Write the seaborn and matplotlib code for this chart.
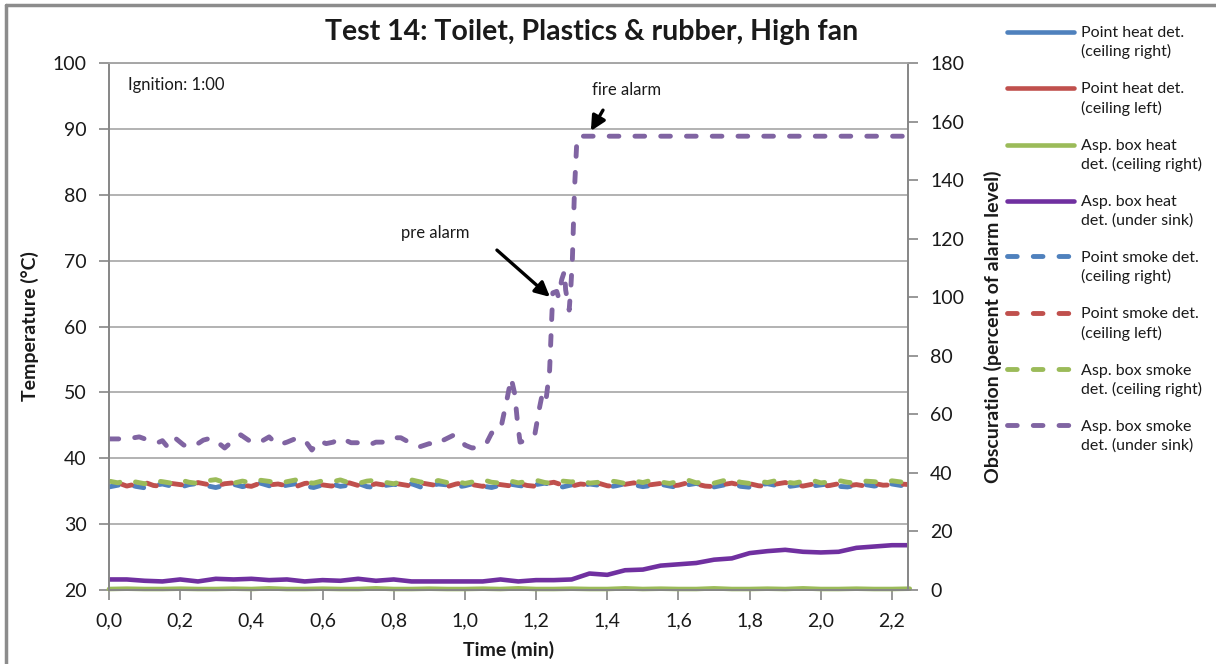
import numpy as np
import matplotlib
matplotlib.use("Agg")
import matplotlib.pyplot as plt
import seaborn as sns
from matplotlib.legend_handler import HandlerLine2D
from matplotlib.lines import Line2D

# ---------------- data ----------------
# heat detectors (temperature, left axis)
heat_step = 0.05
coarse_step = 0.15
point_heat_right = [20.0, 20.0, 20.0, 20.0, 20.0, 20.0, 20.0, 20.0, 20.0, 20.0, 20.0, 20.0, 20.0, 20.0, 20.0, 20.0]
point_heat_left = [19.95, 19.95, 19.95, 19.95, 19.95, 19.9, 19.95, 19.95, 19.9, 19.95, 19.95, 19.9, 19.95, 19.95, 19.95, 19.95]
asp_heat_right = [20.15, 20.2, 20.15, 20.15, 20.2, 20.15, 20.15, 20.2, 20.15, 20.25,
                  20.15, 20.15, 20.2, 20.15, 20.15, 20.25, 20.15, 20.15, 20.2, 20.15,
                  20.15, 20.2, 20.15, 20.25, 20.15, 20.15, 20.2, 20.15, 20.15, 20.25,
                  20.15, 20.2, 20.15, 20.15, 20.25, 20.15, 20.15, 20.2, 20.15, 20.25,
                  20.15, 20.15, 20.2, 20.15, 20.15, 20.2]
asp_heat_sink = [21.6, 21.6, 21.4, 21.3, 21.6, 21.3, 21.7, 21.6, 21.7, 21.5,
                 21.6, 21.3, 21.5, 21.4, 21.7, 21.4, 21.6, 21.3, 21.3, 21.3,
                 21.3, 21.3, 21.6, 21.3, 21.5, 21.5, 21.6, 22.5, 22.3, 23.0,
                 23.1, 23.7, 23.9, 24.1, 24.6, 24.8, 25.6, 25.9, 26.1, 25.8,
                 25.7, 25.8, 26.4, 26.6, 26.8, 26.8]

# smoke detectors (obscuration, right axis)
smoke_step = 0.025
asp_smoke_right = [37.2, 36.6, 37.5, 36.9, 36.3, 37.4, 37.0, 36.5, 37.6, 36.8,
                   36.4, 37.3, 37.7, 36.7, 36.5, 37.2, 36.6, 37.5, 37.1, 36.4,
                   37.0, 37.6, 36.8, 36.5, 37.3, 36.9, 37.6, 36.6, 36.4, 37.2,
                   37.5, 36.8, 36.3, 37.1, 37.6, 36.9, 36.5, 37.4, 36.7, 37.2,
                   36.4, 37.0, 37.7, 36.8, 36.5, 37.3, 36.6, 37.1, 37.5, 36.7,
                   36.4, 37.2, 36.9, 37.6, 36.5, 36.8, 37.4, 37.0, 36.4, 37.3,
                   36.7, 37.5, 36.9, 36.4, 37.1, 37.6, 36.6, 37.0, 36.5, 37.3,
                   37.7, 36.8, 36.4, 37.2, 36.7, 37.4, 36.9, 36.5, 37.1, 37.5,
                   36.6, 36.9, 37.4, 36.8, 36.5, 37.2, 37.0, 36.6, 37.3, 36.9, 37.0]
point_smoke_left = [36.0, 36.6, 35.5, 36.2, 36.8, 35.7, 35.4, 36.4, 36.0, 35.6,
                    36.7, 36.1, 35.5, 36.3, 36.6, 35.8, 35.4, 36.5, 35.9, 36.2,
                    35.6, 35.3, 36.4, 36.7, 35.9, 35.5, 36.1, 36.6, 35.7, 35.4,
                    36.3, 35.8, 36.5, 36.0, 35.5, 36.6, 36.1, 35.6, 35.3, 36.2,
                    36.7, 35.9, 35.4, 36.4, 36.0, 35.6, 36.5, 35.7, 35.4, 36.3,
                    36.8, 35.8, 35.5, 36.2, 35.9, 36.5, 35.6, 35.3, 36.1, 36.6,
                    35.7, 36.0, 36.4, 35.5, 35.8, 36.6, 36.2, 35.5, 35.3, 36.0,
                    36.5, 35.8, 36.3, 35.6, 35.4, 36.2, 36.7, 35.9, 35.5, 36.1,
                    35.4, 35.7, 36.3, 35.6, 36.0, 35.5, 36.4, 35.8, 35.9, 36.2, 36.0]
point_smoke_right = [35.2, 35.8, 36.3, 35.4, 34.9, 35.7, 36.2, 35.5, 35.1, 36.0,
                     36.4, 35.6, 35.0, 35.8, 36.1, 35.3, 35.9, 36.5, 35.6, 35.2,
                     35.8, 36.3, 35.5, 35.0, 35.9, 36.2, 35.4, 35.8, 36.4, 35.3,
                     35.0, 35.7, 36.1, 35.6, 36.3, 35.2, 35.5, 36.2, 35.9, 35.1,
                     35.6, 36.4, 35.5, 35.0, 35.8, 36.2, 35.7, 35.3, 36.0, 36.5,
                     35.6, 35.2, 35.9, 35.4, 36.2, 35.8, 35.1, 35.6, 36.3, 35.9,
                     35.3, 35.7, 36.1, 35.5, 35.0, 35.9, 36.4, 35.6, 35.2, 35.8,
                     36.2, 35.4, 35.1, 35.9, 36.3, 35.7, 35.2, 35.6, 36.1, 35.5,
                     35.9, 36.3, 35.4, 35.2, 35.8, 36.0, 35.5, 35.9, 36.2, 35.7, 35.9]
asp_smoke_sink_t = [0.00, 0.03, 0.06, 0.085, 0.11, 0.135, 0.15, 0.165, 0.185, 0.21, 0.235, 0.265, 0.29, 0.31,
                    0.325, 0.35, 0.37, 0.40, 0.42, 0.45, 0.465, 0.475, 0.50, 0.53, 0.55, 0.57, 0.59, 0.61,
                    0.63, 0.65, 0.68, 0.70, 0.73, 0.75, 0.77, 0.79, 0.82, 0.85, 0.87, 0.90, 0.92, 0.94,
                    0.97, 0.99, 1.00, 1.02, 1.04, 1.06, 1.075, 1.10, 1.118, 1.13, 1.14, 1.148, 1.155,
                    1.17, 1.197, 1.21, 1.218, 1.228, 1.238, 1.243, 1.247, 1.258, 1.263, 1.272, 1.28,
                    1.283, 1.293, 1.298, 1.302, 1.308, 1.315, 1.33, 2.245]
asp_smoke_sink = [51.6, 51.6, 51.8, 52.3, 51.2, 50.2, 51.0, 48.8, 52.0, 49.5, 48.8, 51.2, 52.0, 50.0,
                  48.5, 51.2, 53.0, 50.5, 50.2, 52.3, 50.5, 49.5, 50.5, 52.0, 51.2, 47.8, 51.0, 50.0,
                  50.5, 52.0, 50.3, 50.3, 49.5, 50.5, 50.5, 52.0, 52.0, 50.0, 48.8, 50.0, 49.5, 51.2,
                  53.0, 51.2, 49.5, 48.5, 48.8, 50.0, 53.6, 54.7, 65.0, 72.4, 67.0, 57.0, 50.5,
                  51.0, 53.5, 62.5, 67.3, 65.0, 75.0, 90.0, 101.5, 102.0, 100.0, 106.0, 109.0,
                  102.5, 95.6, 104.0, 113.0, 137.0, 154.7, 155.0, 155.0]

labels = ["Point heat det.\n(ceiling right)", "Point heat det.\n(ceiling left)",
          "Asp. box heat\ndet. (ceiling right)", "Asp. box heat\ndet. (under sink)",
          "Point smoke det.\n(ceiling right)", "Point smoke det.\n(ceiling left)",
          "Asp. box smoke\ndet. (ceiling right)", "Asp. box smoke\ndet. (under sink)"]
xticks = [0.0, 0.2, 0.4, 0.6, 0.8, 1.0, 1.2, 1.4, 1.6, 1.8, 2.0, 2.2]
xtick_labels = ["0,0", "0,2", "0,4", "0,6", "0,8", "1,0", "1,2", "1,4", "1,6", "1,8", "2,0", "2,2"]
left_ticks = [20, 30, 40, 50, 60, 70, 80, 90, 100]
right_ticks = [0, 20, 40, 60, 80, 100, 120, 140, 160, 180]

# ---------------- style ----------------
sns.set_theme(style="white")
plt.rcParams["font.family"] = ["Lato", "DejaVu Sans"]
BLUE, RED, GREEN = "#4F81BD", "#C0504D", "#9BBB59"
PURPLE_SOLID, PURPLE_DASH = "#7030A0", "#8064A2"
GRID = "#A6A6A6"
AXC = "#868686"
TXT = "#1a1a1a"
DASH = (2.0, 3.3)

fig = plt.figure(figsize=(12.16, 6.64), dpi=100)
ax = fig.add_axes([109 / 1216, 1 - 590 / 664, 799 / 1216, 527 / 664])
ax2 = ax.twinx()


def tgrid(vals, step):
    return np.arange(len(vals)) * step


def draw(axis, x, y, color, lw, dashed=False, offset=0.0, clip=True):
    sns.lineplot(x=np.asarray(x), y=np.asarray(y), ax=axis, color=color, linewidth=lw,
                 estimator=None, sort=False, legend=False)
    ln = axis.get_lines()[-1]
    ln.set_solid_capstyle("round")
    ln.set_solid_joinstyle("round")
    if dashed:
        ln.set_linestyle((offset, DASH))
        ln.set_dash_capstyle("round")
        ln.set_dash_joinstyle("round")
    ln.set_clip_on(clip)
    return ln


h1 = draw(ax, tgrid(point_heat_right, coarse_step), point_heat_right, BLUE, 3.3)
h2 = draw(ax, tgrid(point_heat_left, coarse_step), point_heat_left, RED, 3.3)
h3 = draw(ax, tgrid(asp_heat_right, heat_step), asp_heat_right, GREEN, 3.3, clip=False)
h4 = draw(ax, tgrid(asp_heat_sink, heat_step), asp_heat_sink, PURPLE_SOLID, 3.3)
h5 = draw(ax2, tgrid(point_smoke_right, smoke_step), point_smoke_right, BLUE, 3.5, True, 0.0)
h6 = draw(ax2, tgrid(point_smoke_left, smoke_step), point_smoke_left, RED, 3.5, True, 2.5)
h7 = draw(ax2, tgrid(asp_smoke_right, smoke_step), asp_smoke_right, GREEN, 3.5, True, 5.0)
h8 = draw(ax2, asp_smoke_sink_t, asp_smoke_sink, PURPLE_DASH, 3.5, True, 0.0)

ax.set_xlim(0, 2.245)
ax.set_ylim(20, 100)
ax2.set_ylim(0, 180)
ax.set_xticks(xticks)
ax.set_xticklabels(xtick_labels)
ax.set_yticks(left_ticks)
ax2.set_yticks(right_ticks)

ax.yaxis.grid(True, color=GRID, lw=1.2)
ax.xaxis.grid(False)
ax2.grid(False)
ax.set_axisbelow(True)

for a in (ax, ax2):
    for s in a.spines.values():
        s.set_color(AXC)
        s.set_linewidth(1.2)
    a.spines["top"].set_color(GRID)

ax.tick_params(axis="y", which="major", direction="out", length=7, width=1.2, color=AXC,
               labelsize=14, labelcolor=TXT, pad=9, left=True)
ax.tick_params(axis="x", which="major", direction="out", length=7, width=1.2, color=AXC,
               labelsize=14, labelcolor=TXT, pad=9, bottom=True)
ax2.tick_params(axis="y", which="major", direction="out", length=7, width=1.2, color=AXC,
                labelsize=14, labelcolor=TXT, pad=9, right=True)

ax.set_xlabel("Time (min)", fontsize=14, fontweight="bold", color=TXT, va="center")
ax.set_ylabel("Temperature (°C)", fontsize=14, fontweight="bold", color=TXT, va="center")
ax2.set_ylabel("Obscuration (percent of alarm level)", fontsize=14, fontweight="bold",
               color=TXT, va="center")
ax.xaxis.set_label_coords(0.5, -0.114)
ax.yaxis.set_label_coords(-0.099, 0.5)
ax2.yaxis.set_label_coords(1.1065, 0.5)

fig.text(592 / 1216, 1 - 32 / 664, "Test 14: Toilet, Plastics & rubber, High fan",
         ha="center", va="center", fontsize=20.5, fontweight="bold", color=TXT)

ax.text(0.024, 0.958, "Ignition: 1:00", transform=ax.transAxes, ha="left", va="center",
        fontsize=12, color=TXT)
ax2.text(0.916, 121.9, "pre alarm", ha="center", va="center", fontsize=12, color=TXT)
ax2.text(1.455, 170.8, "fire alarm", ha="center", va="center", fontsize=12, color=TXT)
arrow = dict(arrowstyle="-|>", color="black", lw=2.4, mutation_scale=22, shrinkA=0, shrinkB=0)
ax2.annotate("", xy=(1.239, 100.1), xytext=(1.090, 116.1), arrowprops=arrow, annotation_clip=False)
ax2.annotate("", xy=(1.354, 156.8), xytext=(1.388, 163.9), arrowprops=arrow, annotation_clip=False)


class TopHandler(HandlerLine2D):
    def create_artists(self, legend, orig_handle, xdescent, ydescent, width, height, fontsize, trans):
        arts = super().create_artists(legend, orig_handle, xdescent, ydescent, width, height,
                                      fontsize, trans)
        dashed = orig_handle.get_linestyle() not in ("-", "solid")
        for a in arts:
            y = np.asarray(a.get_ydata(), float)
            a.set_ydata(y + 0.68 * fontsize)
            if dashed:
                a.set_linestyle((0, DASH))
                a.set_dash_capstyle("round")
        return arts


leg = fig.legend([h1, h2, h3, h4, h5, h6, h7, h8], labels, loc="upper left",
                 bbox_to_anchor=(1007 / 1216, 1 - 26 / 664), frameon=False, fontsize=11.5,
                 handlelength=4.2, handletextpad=0.45, labelspacing=1.45, borderpad=0,
                 borderaxespad=0, handler_map={Line2D: TopHandler()})
for t in leg.get_texts():
    t.set_linespacing(1.35)
    t.set_color(TXT)

# outer frame of the chart object
fig.add_artist(Line2D([5.5 / 1216, 5.5 / 1216], [0, 1 - 4.5 / 664], transform=fig.transFigure,
                      color="#8c8c8c", lw=2.5))
fig.add_artist(Line2D([5.5 / 1216, 1], [1 - 4.5 / 664, 1 - 4.5 / 664], transform=fig.transFigure,
                      color="#8c8c8c", lw=2.5))

fig.savefig("out.png", dpi=100)
